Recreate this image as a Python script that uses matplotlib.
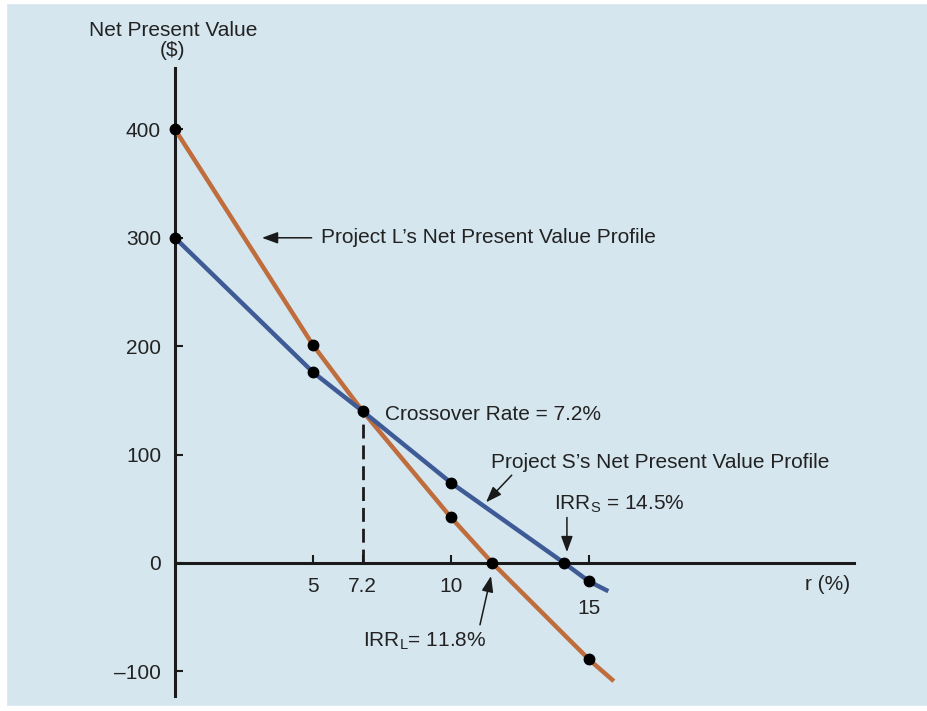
import matplotlib
matplotlib.use("Agg")
import matplotlib.pyplot as plt
from matplotlib.patches import Rectangle

plt.rcParams['font.family'] = ['Liberation Sans', 'DejaVu Sans']

# NPV profile readings (rate %, NPV $) taken off the figure
rate_l = [0, 5, 6.8, 10, 11.5, 15, 15.9]
npv_l = [400, 201, 140, 42, 0, -89, -109]
rate_s = [0, 5, 6.8, 10, 14.1, 15, 15.7]
npv_s = [300, 176, 140, 74, 0, -17, -26]

# marked points
dots_l_rate = [0, 5, 6.8, 10, 11.5, 15]
dots_l_npv = [400, 201, 140, 42, 0, -89]
dots_s_rate = [0, 5, 10, 14.1, 15]
dots_s_npv = [300, 176, 74, 0, -17]

crossover = (6.8, 140)
irr_l = 11.5
irr_s = 14.1

xtick_pos = [5, 6.8, 10, 15]
xtick_labels = ['5', '7.2', '10', '\n15']
ytick_pos = [-100, 0, 100, 200, 300, 400]
ytick_labels = ['\u2013100', '0', '100', '200', '300', '400']

BG = '#d5e6ef'
ORANGE = '#bf6d3c'
BLUE = '#3e5b96'
FS = 15

fig = plt.figure(figsize=(9.28, 7.11), dpi=100, facecolor='white')
ax = fig.add_axes([0, 0, 1, 1])
ax.set_facecolor(BG)

# pixel -> data mapping from the picture: x0 at px 175, 27.6 px per %;
# y0 at px 563, 108.4 px per $100
ax.set_xlim(-175 / 27.6, (928 - 175) / 27.6)
ax.set_ylim((563 - 711) / 1.084, 563 / 1.084)

# white margins of the scanned panel
ax.add_patch(Rectangle((0, 0), 6 / 928, 1, transform=ax.transAxes, color='white', zorder=0.5))
ax.add_patch(Rectangle((0, 1 - 3 / 711), 1, 3 / 711, transform=ax.transAxes, color='white', zorder=0.5))
ax.add_patch(Rectangle((0, 0), 1, 5 / 711, transform=ax.transAxes, color='white', zorder=0.5))

for s in ['top', 'right']:
    ax.spines[s].set_visible(False)
ax.spines['left'].set_position(('data', 0))
ax.spines['bottom'].set_position(('data', 0))
ax.spines['left'].set_bounds(-123, 457)
ax.spines['bottom'].set_bounds(0, 24.6)
for s in ['left', 'bottom']:
    ax.spines[s].set_linewidth(2.2)
    ax.spines[s].set_color('#1a1a1a')

ax.set_xticks(xtick_pos)
ax.set_xticklabels(xtick_labels)
ax.set_yticks(ytick_pos)
ax.set_yticklabels(ytick_labels)
ax.tick_params(axis='both', direction='in', length=6, width=1.5, color='#1a1a1a',
               labelsize=FS, labelcolor='#222222')
ax.tick_params(axis='x', pad=10)
ax.tick_params(axis='y', pad=10)

# profiles
ax.plot(rate_l, npv_l, color=ORANGE, lw=3.2, zorder=3, solid_capstyle='butt')
ax.plot(rate_s, npv_s, color=BLUE, lw=3.2, zorder=3, solid_capstyle='butt')
ax.plot(dots_l_rate, dots_l_npv, 'o', color='black', ms=7.5, zorder=4)
ax.plot(dots_s_rate, dots_s_npv, 'o', color='black', ms=7.5, zorder=4)

# dashed drop from crossover
ax.plot([crossover[0], crossover[0]], [0, crossover[1]], color='#1a1a1a', lw=2,
        ls=(0, (5, 2.5)), zorder=2)

tc = '#222222'
ax.text(-0.08, (563 - 30) / 1.084, 'Net Present Value', ha='center',
        va='center', fontsize=FS, color=tc)
ax.text(-0.08, (563 - 51) / 1.084, '($)', ha='center', va='center',
        fontsize=FS, color=tc)
ax.text(24.6 - 0.15, -20, 'r (%)', ha='right', va='center', fontsize=FS, color=tc)

arrow = dict(arrowstyle='-|>,head_length=0.6,head_width=0.22', color='#1a1a1a', lw=1.1,
             mutation_scale=16, shrinkA=0, shrinkB=0)

ax.text(5.3, 300, 'Project L\u2019s Net Present Value Profile', ha='left', va='center',
        fontsize=FS, color=tc)
ax.annotate('', xy=(3.15, 300), xytext=(4.95, 300), arrowprops=arrow)

ax.text(7.6, 137, 'Crossover Rate = 7.2%', ha='left', va='center', fontsize=FS, color=tc)

ax.text(11.45, 93, 'Project S\u2019s Net Present Value Profile', ha='left', va='center',
        fontsize=FS, color=tc)
ax.annotate('', xy=(11.27, 56), xytext=(12.2, 81), arrowprops=arrow)

ax.text(13.72, 54, 'IRR$_\\mathregular{S}$ = 14.5%', ha='left', va='center', fontsize=FS,
        color=tc)
ax.annotate('', xy=(irr_s + 0.1, 10), xytext=(irr_s + 0.1, 42), arrowprops=arrow)

ax.text(6.8, -72, 'IRR$_\\mathregular{L}$= 11.8%', ha='left', va='center', fontsize=FS,
        color=tc)
ax.annotate('', xy=(irr_l - 0.05, -12), xytext=(irr_l - 0.45, -57), arrowprops=arrow)

fig.savefig('out.png', dpi=100, facecolor=fig.get_facecolor())
